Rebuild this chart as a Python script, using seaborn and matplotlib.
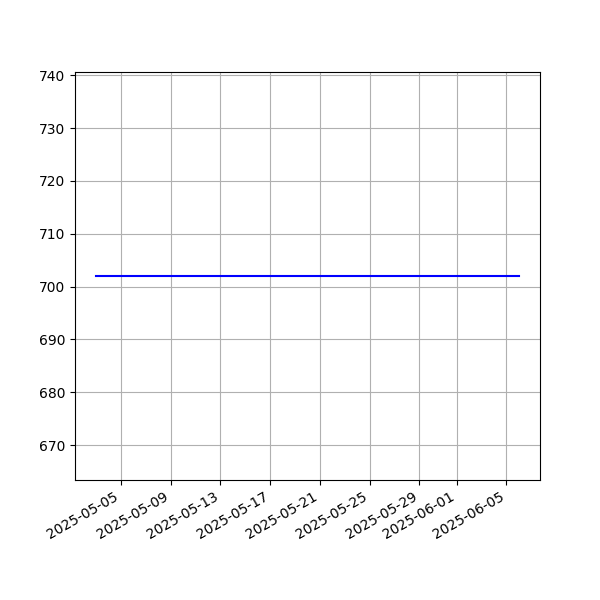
import matplotlib
matplotlib.use("Agg")
import matplotlib.pyplot as plt
import seaborn as sns
import pandas as pd
import numpy as np

dates = pd.date_range("2025-05-03", "2025-06-06", freq="D")
values = [702.0] * len(dates)

df = pd.DataFrame({"date": dates, "value": values})

fig, ax = plt.subplots(figsize=(6, 6), dpi=100)
sns.lineplot(data=df, x="date", y="value", color="blue", ax=ax)
ax.set_xlabel("")
ax.set_ylabel("")
ax.grid(True)
fig.autofmt_xdate()
fig.savefig("out.png", dpi=100)
